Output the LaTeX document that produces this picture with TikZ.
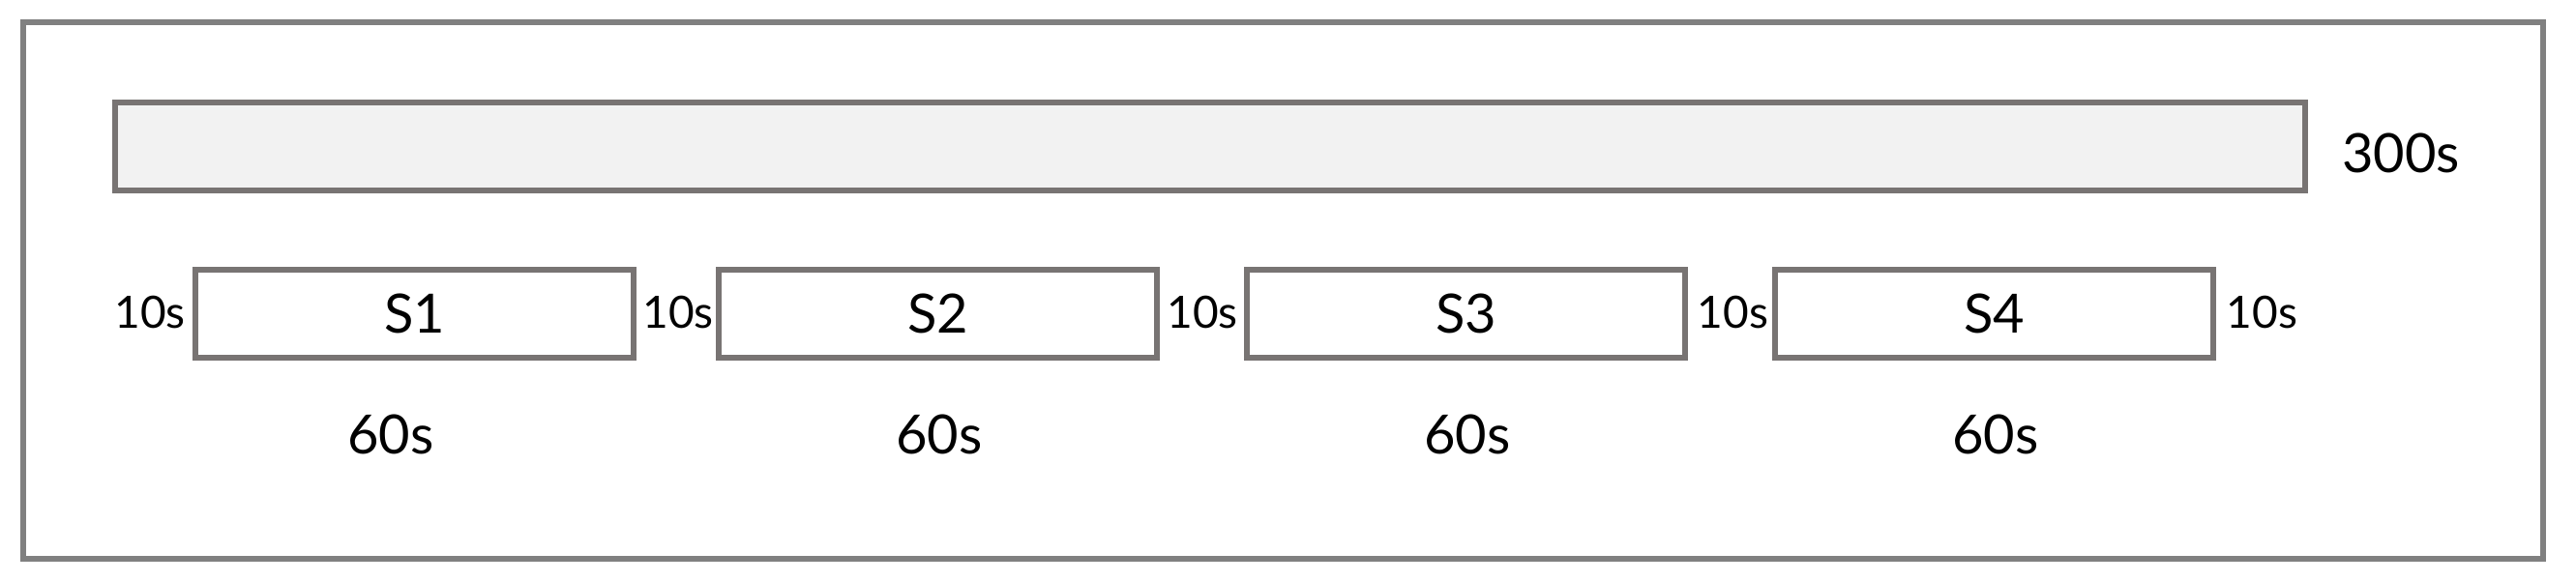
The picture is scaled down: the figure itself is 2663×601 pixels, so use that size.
\documentclass[tikz,border=0pt]{standalone}
\usepackage{fontspec}
\setmainfont{Lato}
\definecolor{framegray}{HTML}{808080}
\definecolor{boxgray}{HTML}{787473}
\definecolor{barfill}{HTML}{F2F2F2}
\begin{document}
\begin{tikzpicture}[x=0.5pt,y=-0.5pt,
  frame/.style={draw=framegray,line width=3pt,inner sep=0pt,minimum width=1302.6pt,minimum height=277.9pt},
  bar/.style={draw=boxgray,fill=barfill,line width=3pt,inner sep=0pt,minimum width=1132pt,minimum height=45.5pt},
  seg/.style={draw=boxgray,fill=white,line width=3pt,inner sep=0pt,minimum width=226.5pt,minimum height=45.5pt,font=\fontsize{28}{32}\selectfont},
  small/.style={inner sep=0pt,font=\fontsize{23}{27}\selectfont},
  big/.style={inner sep=0pt,font=\fontsize{28}{32}\selectfont}]
\useasboundingbox (0,0) rectangle (2663,601);
\node[frame] (outer) at (1326.4,300.4) {};
\node[bar] (total) at (1251,151.5) {};
\node[big] (t300) at (2482,158) {300s};
\node[seg] (s1) at (428.5,324.8) {S1};
\node[seg] (s2) at (969.5,324.8) {S2};
\node[seg] (s3) at (1515.5,324.8) {S3};
\node[seg] (s4) at (2061.5,324.8) {S4};
\node[small] (g0) at (155,323.5) {10s};
\node[small] (g1) at (701,323.5) {10s};
\node[small] (g2) at (1243,323.5) {10s};
\node[small] (g3) at (1791.5,323.5) {10s};
\node[small] (g4) at (2338.5,323.5) {10s};
\node[big] (d1) at (404,449.5) {60s};
\node[big] (d2) at (971,449.5) {60s};
\node[big] (d3) at (1517,449.5) {60s};
\node[big] (d4) at (2063,449.5) {60s};
\end{tikzpicture}
\end{document}
